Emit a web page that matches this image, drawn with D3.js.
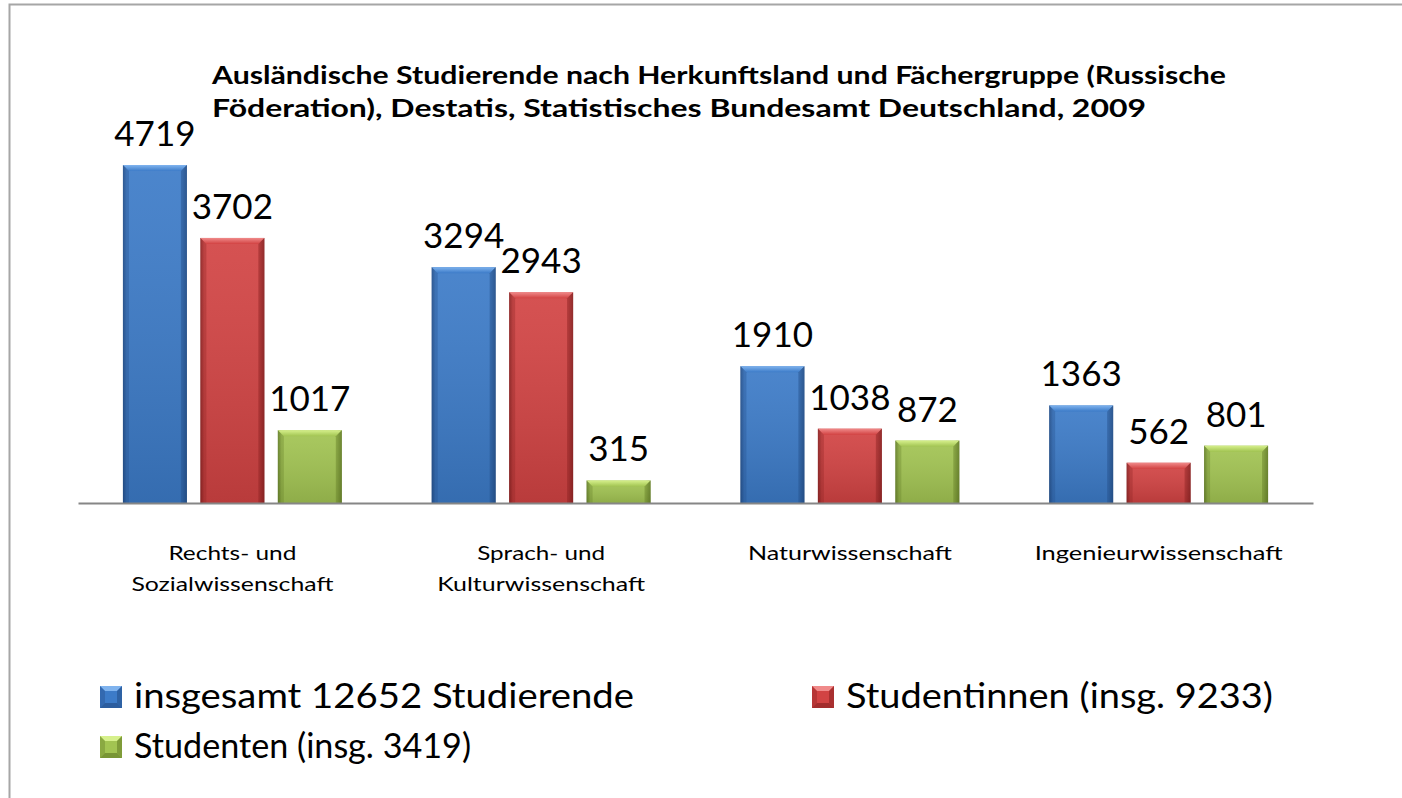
<!DOCTYPE html>
<html><head><meta charset="utf-8">
<script src="https://cdn.jsdelivr.net/npm/d3@7"></script>
<style>
html,body{margin:0;padding:0;background:#fff;}
svg{display:block;font-family:Lato,"Open Sans",sans-serif;}
</style></head>
<body>
<svg id="chart" width="1402" height="798"></svg>
<script>
const categories = [
  ["Rechts- und", "Sozialwissenschaft"],
  ["Sprach- und", "Kulturwissenschaft"],
  ["Naturwissenschaft"],
  ["Ingenieurwissenschaft"]
];
const seriesNames = ["insgesamt 12652 Studierende", "Studentinnen (insg. 9233)", "Studenten (insg. 3419)"];
const insgesamt = [4719, 3294, 1910, 1363];
const studentinnen = [3702, 2943, 1038, 562];
const studenten = [1017, 315, 872, 801];
const titleLines = [
  "Ausländische Studierende nach Herkunftsland und Fächergruppe (Russische",
  "Föderation), Destatis, Statistisches Bundesamt Deutschland, 2009"
];
const palette = [
  {base:"#3c7bc8", dark:"#25518c", light:"#7fb3ee"},
  {base:"#d24343", dark:"#8e2424", light:"#f08a8a"},
  {base:"#a2c452", dark:"#67822a", light:"#d6f08c"}
];

// layout-only widths (px) used to match the reference's wider glyph metrics
const titleWidths = [1014, 934];
const catLineWidths = [[128, 202], [128, 208], [204], [248]];
const legendWidths = [500, 427, 337];

const svg = d3.select("#chart");
const catKeys = categories.map(c => c.join(" "));
const values = [insgesamt, studentinnen, studenten];
const data = catKeys.map((k, i) => ({key: k, idx: i, lines: categories[i], vals: values.map(v => v[i])}));

// frame
svg.append("path").attr("d", "M9.5,798 V4.5 H1402").attr("fill", "none").attr("stroke", "#a6a6a6").attr("stroke-width", 2);

// defs: gradients
const defs = svg.append("defs");
palette.forEach((p, i) => {
  const g = defs.append("linearGradient").attr("id", "h" + i).attr("x1", 0).attr("x2", 1).attr("y1", 0).attr("y2", 0);
  g.append("stop").attr("offset", "0").attr("stop-color", p.dark);
  g.append("stop").attr("offset", "0.06").attr("stop-color", p.base);
  g.append("stop").attr("offset", "0.92").attr("stop-color", p.base);
  g.append("stop").attr("offset", "1").attr("stop-color", p.dark);
  const v = defs.append("linearGradient").attr("id", "v" + i).attr("x1", 0).attr("x2", 0).attr("y1", 0).attr("y2", 1);
  v.append("stop").attr("offset", "0").attr("stop-color", "#fff").attr("stop-opacity", 0.08);
  v.append("stop").attr("offset", "1").attr("stop-color", "#000").attr("stop-opacity", 0.12);
  const t = defs.append("linearGradient").attr("id", "t" + i).attr("x1", 0).attr("x2", 0).attr("y1", 0).attr("y2", 1);
  t.append("stop").attr("offset", "0").attr("stop-color", p.light);
  t.append("stop").attr("offset", "1").attr("stop-color", p.base);
});

const x0 = d3.scaleBand().domain(catKeys).range([78, 1313]).paddingInner(0).paddingOuter(0);
const x1 = d3.scaleBand().domain(d3.range(3)).range([0, x0.bandwidth()]).paddingInner(0.174).paddingOuter(0.58);
const y = d3.scaleLinear().domain([0, 5000]).range([503, 145]);

// title
titleLines.forEach((t, i) => {
  svg.append("text").attr("x", 212).attr("y", 84 + i * 33)
    .attr("font-weight", "bold").attr("font-size", 25).attr("fill", "#000")
    .attr("textLength", titleWidths[i]).attr("lengthAdjust", "spacingAndGlyphs").text(t);
});

// bars
const groups = svg.append("g").selectAll("g").data(data).join("g")
  .attr("transform", d => `translate(${x0(d.key)},0)`);

groups.each(function(d) {
  const g = d3.select(this);
  d.vals.forEach((v, si) => {
    const bx = x1(si), bw = x1.bandwidth(), top = y(v), h = y(0) - y(v);
    const bev = Math.min(6, h / 3);
    g.append("rect").attr("x", bx).attr("y", top).attr("width", bw).attr("height", h).attr("fill", `url(#h${si})`);
    g.append("rect").attr("x", bx).attr("y", top).attr("width", bw).attr("height", h).attr("fill", `url(#v${si})`);
    g.append("path").attr("d", `M${bx},${top} H${bx + bw} L${bx + bw - bev},${top + bev} H${bx + bev} Z`)
      .attr("fill", `url(#t${si})`);
    g.append("path").attr("d", `M${bx},${top} L${bx + bev},${top + bev} V${y(0)} H${bx} Z`)
      .attr("fill", palette[si].dark).attr("opacity", 0.35);
    g.append("path").attr("d", `M${bx + bw},${top} L${bx + bw - bev},${top + bev} V${y(0)} H${bx + bw} Z`)
      .attr("fill", palette[si].dark).attr("opacity", 0.5);
    g.append("text").attr("x", bx + bw / 2).attr("y", top - 19).attr("text-anchor", "middle")
      .attr("font-size", 35).attr("fill", "#000").text(v);
  });
});

// axis
const axis = svg.append("g").attr("transform", `translate(0,${y(0)})`)
  .call(d3.axisBottom(x0).tickSize(0).tickFormat(""));
axis.select(".domain").attr("stroke", "#868686").attr("stroke-width", 2);

const catG = svg.append("g");
data.forEach(d => {
  d.lines.forEach((line, li) => {
    catG.append("text").attr("x", x0(d.key) + x0.bandwidth() / 2).attr("y", 560 + li * 31)
      .attr("text-anchor", "middle").attr("font-size", 20).attr("fill", "#000")
      .attr("textLength", catLineWidths[d.idx][li]).attr("lengthAdjust", "spacingAndGlyphs").text(line);
  });
});

// legend
const legendPos = [{x: 100, y: 708}, {x: 812, y: 708}, {x: 100, y: 758}];
const leg = svg.append("g").selectAll("g").data(seriesNames).join("g")
  .attr("transform", (d, i) => `translate(${legendPos[i].x},${legendPos[i].y})`);
leg.each(function(d, i) {
  const g = d3.select(this);
  const s = 22, top = -22;
  g.append("rect").attr("x", 0).attr("y", top).attr("width", s).attr("height", s).attr("fill", palette[i].base);
  g.append("path").attr("d", `M0,${top} H${s} L${s - 5},${top + 5} H5 Z`).attr("fill", palette[i].light);
  g.append("path").attr("d", `M0,${top + s} H${s} L${s - 5},${top + s - 5} H5 Z`).attr("fill", palette[i].dark).attr("opacity", 0.7);
  g.append("path").attr("d", `M0,${top} L5,${top + 5} V${top + s - 5} L0,${top + s} Z`).attr("fill", palette[i].dark).attr("opacity", 0.4);
  g.append("path").attr("d", `M${s},${top} L${s - 5},${top + 5} V${top + s - 5} L${s},${top + s} Z`).attr("fill", palette[i].dark).attr("opacity", 0.6);
  g.append("text").attr("x", 34).attr("y", 0).attr("font-size", 35).attr("fill", "#000")
    .attr("textLength", legendWidths[i]).attr("lengthAdjust", "spacingAndGlyphs").text(d);
});
</script>
</body></html>
